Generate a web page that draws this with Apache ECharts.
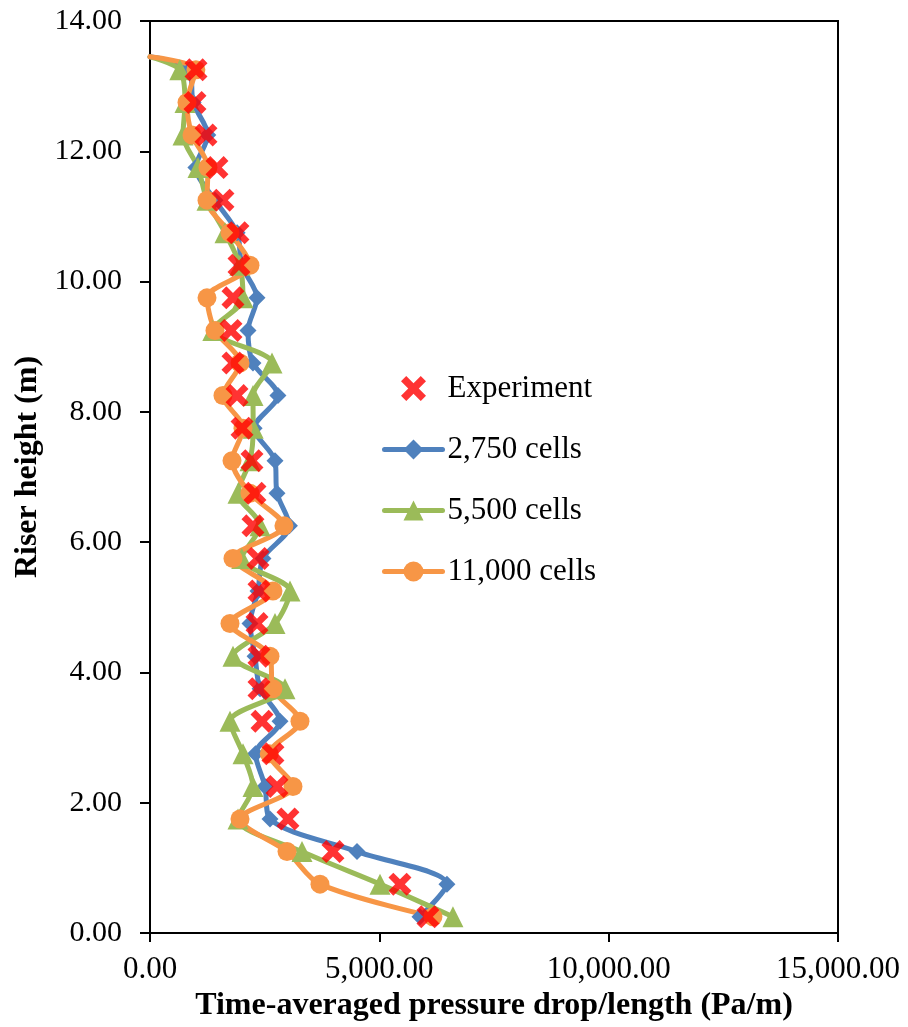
<!DOCTYPE html>
<html>
<head>
<meta charset="utf-8">
<script src="https://cdn.jsdelivr.net/npm/echarts@6/dist/echarts.min.js"></script>
<style>
  html, body { margin: 0; padding: 0; background: #fff; }
  #chart { width: 908px; height: 1027px; }
</style>
</head>
<body>
<div id="chart"></div>
<script>
// Riser heights (m) of the measurement / monitoring planes, bottom to top
const heights = [0.25, 0.75, 1.25, 1.75, 2.25, 2.75, 3.25, 3.75, 4.25, 4.75, 5.25, 5.75, 6.25, 6.75,
  7.25, 7.75, 8.25, 8.75, 9.25, 9.75, 10.25, 10.75, 11.25, 11.75, 12.25, 12.75, 13.25];
// Outlet plane where the simulated profiles end
const outletHeight = 13.45;
const outletValue = 0;

// Time-averaged pressure drop per length (Pa/m)
const experiment = [6060, 5450, 3989, 3008, 2769, 2681, 2442, 2376, 2376, 2333, 2376, 2354, 2245, 2289,
  2224, 2006, 1897, 1809, 1766, 1809, 1940, 1918, 1591, 1460, 1221, 981, 1003];
const cells2750 = [5886, 6474, 4513, 2616, 2507, 2300, 2834, 2400, 2290, 2180, 2354, 2463, 3040, 2769,
  2725, 2270, 2790, 2245, 2137, 2333, 2000, 1900, 1417, 1000, 1260, 940, 870];
const cells5500 = [6605, 5014, 3314, 1918, 2245, 2027, 1744, 2943, 1809, 2725, 3052, 2000, 2398, 1918,
  2180, 2250, 2245, 2660, 1370, 2027, 1960, 1635, 1243, 1046, 720, 763, 650];
const cells11000 = [6169, 3706, 2987, 1962, 3117, 2600, 3270, 2681, 2616, 1744, 2681, 1809, 2920, 2180,
  1788, 2027, 1591, 1962, 1417, 1243, 2180, 1744, 1243, 1264, 916, 807, 1000];

const seriesNames = ['Experiment', '2,750 cells', '5,500 cells', '11,000 cells'];
const xTicks = { min: 0, max: 15000, step: 5000 };
const yTicks = { min: 0, max: 14, step: 2 };

const FONT = '"Liberation Serif", "Times New Roman", serif';
const crossPath = 'path://M4.2,0 L10,5.8 L15.8,0 L20,4.2 L14.2,10 L20,15.8 L15.8,20 L10,14.2 L4.2,20 L0,15.8 L5.8,10 L0,4.2 Z';

function pairs(values, withOutlet) {
  const d = values.map((v, i) => [v, heights[i]]);
  if (withOutlet) d.push({ value: [outletValue, outletHeight], symbol: 'none' });
  return d;
}

function simSeries(name, values, color, symbol, size) {
  return {
    name: name,
    type: 'line',
    data: pairs(values, true),
    smooth: 0.3,
    symbol: symbol,
    symbolSize: size,
    showAllSymbol: true,
    clip: true,
    lineStyle: { color: color, width: 5, cap: 'round', join: 'round' },
    itemStyle: { color: color },
    z: 2
  };
}

const fmt = v => v.toLocaleString('en-US', { minimumFractionDigits: 2, maximumFractionDigits: 2 });

const chart = echarts.init(document.getElementById('chart'), null, { renderer: 'canvas' });
chart.setOption({
  animation: false,
  backgroundColor: '#ffffff',
  grid: { left: 150, right: 70, top: 21, bottom: 94, show: true, borderColor: '#000', borderWidth: 2, backgroundColor: 'transparent' },
  legend: {
    orient: 'vertical',
    left: 377,
    top: 368,
    itemWidth: 58,
    itemHeight: 25,
    itemGap: 30,
    data: seriesNames,
    lineStyle: { width: 5, cap: 'round' },
    textStyle: { fontFamily: FONT, fontSize: 31, color: '#000' }
  },
  xAxis: {
    type: 'value',
    min: xTicks.min,
    max: xTicks.max,
    interval: xTicks.step,
    name: 'Time-averaged pressure drop/length (Pa/m)',
    nameLocation: 'middle',
    nameGap: 52,
    nameTextStyle: { fontFamily: FONT, fontSize: 32, fontWeight: 'bold', color: '#000' },
    axisLine: { show: true, onZero: false, lineStyle: { color: '#000', width: 2 } },
    axisTick: { show: true, inside: false, length: 9, lineStyle: { color: '#000', width: 2 } },
    axisLabel: { fontFamily: FONT, fontSize: 31, color: '#000', margin: 21, formatter: fmt },
    splitLine: { show: false }
  },
  yAxis: {
    type: 'value',
    min: yTicks.min,
    max: yTicks.max,
    interval: yTicks.step,
    name: 'Riser height (m)',
    nameLocation: 'middle',
    nameGap: 106,
    nameRotate: 90,
    nameTextStyle: { fontFamily: FONT, fontSize: 32, fontWeight: 'bold', color: '#000', padding: [0, 0, 0, 20] },
    axisLine: { show: true, onZero: false, lineStyle: { color: '#000', width: 2 } },
    axisTick: { show: true, inside: false, length: 10, lineStyle: { color: '#000', width: 2 } },
    axisLabel: { fontFamily: FONT, fontSize: 30, color: '#000', margin: 28, formatter: fmt },
    splitLine: { show: false }
  },
  series: [
    {
      name: seriesNames[0],
      type: 'scatter',
      data: pairs(experiment, false),
      symbol: crossPath,
      symbolSize: 23,
      itemStyle: { color: '#ff0000' },
      z: 5
    },
    simSeries(seriesNames[1], cells2750, '#4f81bd', 'diamond', 17),
    simSeries(seriesNames[2], cells5500, '#9bbb59', 'triangle', 21),
    simSeries(seriesNames[3], cells11000, '#f79646', 'circle', 19)
  ]
});
</script>
</body>
</html>
